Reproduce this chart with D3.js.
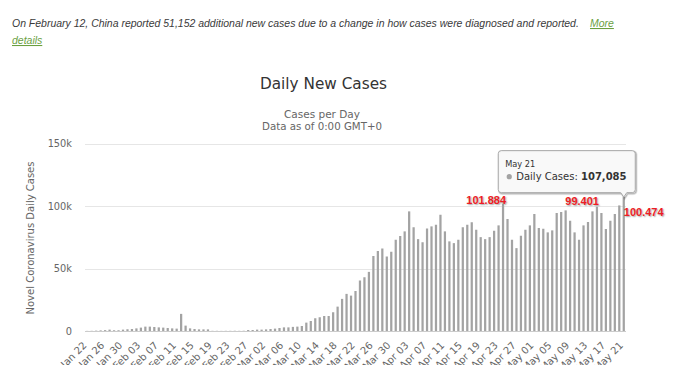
<!DOCTYPE html>
<html>
<head>
<meta charset="utf-8">
<script src="https://d3js.org/d3.v7.min.js"></script>
<style>
  html, body { margin: 0; padding: 0; background: #fff; }
  svg { display: block; }
</style>
</head>
<body>
<svg id="chart" width="680" height="365"></svg>
<script>
// ---------------- DATA ----------------
const startDate = new Date(2020, 0, 22);
const endDate = new Date(2020, 4, 22);
const categories = d3.timeDay.range(startDate, endDate).map(d3.timeFormat("%b %d"));

const dailyCases = [
  100, 150, 300, 500, 700, 1100, 600, 600, 1100, 1400,
  1600, 2100, 2700, 3500, 3500, 3200, 2900, 2700, 2400, 2100,
  1900, 13700, 4300, 2100, 1600, 1300, 1300, 1300, 150, 150,
  100, 150, 150, 200, 150, 200, 800, 800, 1100, 1100,
  1300, 1600, 1900, 2400, 2900, 2900, 3300, 3500, 4000, 6700,
  8000, 10200, 11000, 12000, 12000, 15000, 19500, 25700, 29700, 28300,
  32000, 40400, 43000, 47300, 60000, 64000, 66000, 59600, 63400, 73000,
  76000, 79700, 95700, 83000, 73500, 71000, 82000, 83700, 85000, 93000,
  79700, 71700, 70300, 73000, 83000, 85000, 87000, 81000, 75100, 73500,
  75100, 80200, 84500, 101884, 89600, 73000, 66300, 76200, 81000, 84500,
  93600, 82400, 81800, 78900, 80500, 94400, 95200, 96500, 88200, 78900,
  73000, 84500, 87200, 95700, 99401, 94400, 81600, 88200, 93600, 100474,
  107085
];

const xTickLabels = ["Jan 22","Jan 26","Jan 30","Feb 03","Feb 07","Feb 11","Feb 15","Feb 19",
  "Feb 23","Feb 27","Mar 02","Mar 06","Mar 10","Mar 14","Mar 18","Mar 22","Mar 26","Mar 30",
  "Apr 03","Apr 07","Apr 11","Apr 15","Apr 19","Apr 23","Apr 27","May 01","May 05","May 09",
  "May 13","May 17","May 21"];

const yTickValues = [0, 50000, 100000, 150000];
const yTickLabels = ["0", "50k", "100k", "150k"];

const annotatedDays = ["Apr 24", "May 15", "May 20"];
const annotationTexts = ["101.884", "99.401", "100.474"];

const tooltipDay = "May 21";
const tooltipSeriesName = "Daily Cases";

const noteText = "On February 12, China reported 51,152 additional new cases due to a change in how cases were diagnosed and reported.";
const linkWords = ["More", "details"];
const titleText = "Daily New Cases";
const subtitleLines = ["Cases per Day", "Data as of 0:00 GMT+0"];
const yAxisTitle = "Novel Coronavirus Daily Cases";

// ---------------- DRAW ----------------
const svg = d3.select("#chart");
const plot = { left: 85, right: 626, top: 143.5, bottom: 331 };
const barColor = "#a3a3a3";
const linkColor = "#6a9f3f";

const x = d3.scaleBand().domain(categories).range([plot.left, plot.right])
  .paddingInner(0.5).paddingOuter(0.25);
const y = d3.scaleLinear().domain([0, 150000]).range([plot.bottom, plot.top]);

// note text: font sized so its natural width fits the reference line
const noteFont = "'Liberation Sans', Arial, sans-serif";
const noteMain = svg.append("text").attr("x", 12).attr("y", 27)
  .attr("font-family", noteFont).attr("font-style", "italic").attr("font-size", 12)
  .attr("fill", "#3a3a3a").text(noteText);
const natural = noteMain.node().getComputedTextLength();
const noteSize = 12 * 568 / natural;
noteMain.attr("font-size", noteSize);
svg.append("text").attr("x", 590).attr("y", 27)
  .attr("font-family", noteFont).attr("font-style", "italic").attr("font-size", noteSize)
  .attr("fill", linkColor).style("text-decoration", "underline").text(linkWords[0]);
svg.append("text").attr("x", 12).attr("y", 44)
  .attr("font-family", noteFont).attr("font-style", "italic").attr("font-size", noteSize)
  .attr("fill", linkColor).style("text-decoration", "underline").text(linkWords[1]);

// titles
const font = "'DejaVu Sans', Verdana, sans-serif";
svg.append("text").attr("x", 323.5).attr("y", 89).attr("text-anchor", "middle")
  .attr("font-family", font).attr("font-size", 16.5).attr("fill", "#333")
  .attr("textLength", 127).attr("lengthAdjust", "spacingAndGlyphs").text(titleText);
const subLens = [76, 120];
subtitleLines.forEach((t, i) => {
  svg.append("text").attr("x", 322).attr("y", 117.5 + i * 12).attr("text-anchor", "middle")
    .attr("font-family", font).attr("font-size", 10.3).attr("fill", "#666")
    .attr("textLength", subLens[i]).attr("lengthAdjust", "spacingAndGlyphs").text(t);
});

// gridlines + y labels
const yAxis = svg.append("g").attr("font-family", font).attr("font-size", 9.8).attr("fill", "#666");
yTickValues.forEach((v, i) => {
  if (v > 0) {
    svg.append("line").attr("x1", plot.left).attr("x2", plot.right)
      .attr("y1", Math.round(y(v)) + 0.5).attr("y2", Math.round(y(v)) + 0.5)
      .attr("stroke", "#e6e6e6").attr("stroke-width", 1);
  }
  yAxis.append("text").attr("x", 72).attr("y", y(v) + 3.5).attr("text-anchor", "end").text(yTickLabels[i]);
});

// y-axis title
svg.append("text").attr("transform", "translate(33.5,238) rotate(-90)")
  .attr("text-anchor", "middle").attr("font-family", font).attr("font-size", 11)
  .attr("fill", "#666").attr("textLength", 153).attr("lengthAdjust", "spacingAndGlyphs")
  .text(yAxisTitle);

// bars
svg.append("g").selectAll("rect").data(dailyCases).join("rect")
  .attr("x", (d, i) => x(categories[i]))
  .attr("width", x.bandwidth())
  .attr("y", d => y(d))
  .attr("height", d => y(0) - y(d))
  .attr("fill", barColor);

// x axis line
svg.append("line").attr("x1", plot.left).attr("x2", plot.right)
  .attr("y1", plot.bottom + 0.5).attr("y2", plot.bottom + 0.5)
  .attr("stroke", "#cccccc").attr("stroke-width", 1);

// x tick labels
const xAxis = svg.append("g").attr("font-family", font).attr("font-size", 10).attr("fill", "#666");
xTickLabels.forEach(lbl => {
  const cx = x(lbl) + x.bandwidth() / 2;
  xAxis.append("text").attr("transform", `translate(${cx},346) rotate(-45)`)
    .attr("text-anchor", "end").text(lbl);
});

// annotations
const annOffsets = [[3, 0, "end"], [2, -1.5, "end"], [4.5, 10.5, "start"]];
annotatedDays.forEach((day, i) => {
  const idx = categories.indexOf(day);
  const cx = x(day) + x.bandwidth() / 2;
  svg.append("text").attr("x", cx + annOffsets[i][0]).attr("y", y(dailyCases[idx]) + annOffsets[i][1])
    .attr("text-anchor", annOffsets[i][2])
    .attr("font-family", "'Liberation Sans', Arial, sans-serif").attr("font-weight", "bold")
    .attr("font-size", 11).attr("fill", "#ee1c25")
    .style("text-shadow", "1px 1px 1.5px rgba(0,0,0,0.35)")
    .text(annotationTexts[i]);
});

// tooltip
const tIdx = categories.indexOf(tooltipDay);
const tipX = x(tooltipDay) + x.bandwidth() / 2;
const tipY = y(dailyCases[tIdx]);
const bx0 = tipX - 125.5, bx1 = tipX + 11.5, by0 = tipY - 46.5, by1 = tipY - 4.5, r = 3;
function tooltipPath() {
  const p = d3.path();
  p.moveTo(bx0 + r, by0);
  p.lineTo(bx1 - r, by0); p.arcTo(bx1, by0, bx1, by0 + r, r);
  p.lineTo(bx1, by1 - r); p.arcTo(bx1, by1, bx1 - r, by1, r);
  p.lineTo(tipX + 3, by1); p.lineTo(tipX, tipY); p.lineTo(tipX - 3, by1);
  p.lineTo(bx0 + r, by1); p.arcTo(bx0, by1, bx0, by1 - r, r);
  p.lineTo(bx0, by0 + r); p.arcTo(bx0, by0, bx0 + r, by0, r);
  p.closePath();
  return p.toString();
}
const tip = svg.append("g");
[[3, 0.05], [2, 0.1], [1, 0.15]].forEach(([w, o]) => {
  tip.append("path").attr("d", tooltipPath()).attr("transform", "translate(1,1)")
    .attr("fill", "none").attr("stroke", "#000").attr("stroke-opacity", o).attr("stroke-width", w);
});
tip.append("path").attr("d", tooltipPath()).attr("fill", "rgba(249,249,249,0.96)")
  .attr("stroke", "#a8a8a8").attr("stroke-width", 1);
tip.append("text").attr("x", bx0 + 7).attr("y", by0 + 16).attr("font-family", font)
  .attr("font-size", 8.2).attr("fill", "#333").text(tooltipDay);
tip.append("circle").attr("cx", bx0 + 11).attr("cy", by0 + 26).attr("r", 2.6).attr("fill", barColor);
const tt = tip.append("text").attr("x", bx0 + 18).attr("y", by0 + 29.5).attr("font-family", font)
  .attr("font-size", 10).attr("fill", "#333");
tt.append("tspan").text(tooltipSeriesName + ": ");
tt.append("tspan").attr("font-weight", "bold").text(d3.format(",")(dailyCases[tIdx]));
</script>
</body>
</html>
